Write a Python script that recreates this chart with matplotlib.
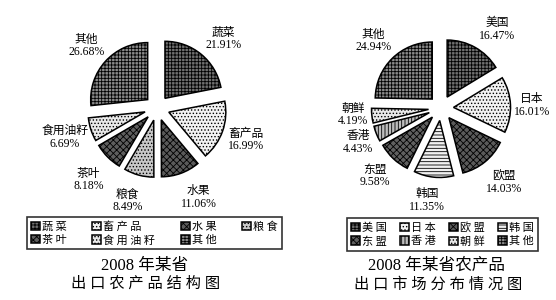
import matplotlib
matplotlib.use('Agg')
import matplotlib.pyplot as plt

plt.rcParams['font.family'] = ['Liberation Serif', 'Noto Sans CJK SC']
plt.rcParams['hatch.linewidth'] = 0.6

# left chart: product structure
prod_names = ['蔬菜', '畜产品', '水果', '粮食', '茶叶', '食用油籽', '其他']
prod_share = [21.91, 16.99, 11.06, 8.49, 8.18, 6.69, 26.68]
prod_legend = ['蔬 菜', '畜 产 品', '水 果', '粮 食', '茶 叶', '食 用 油 籽', '其 他']

# right chart: market distribution
mkt_names = ['美国', '日本', '欧盟', '韩国', '东盟', '香港', '朝鲜', '其他']
mkt_share = [16.47, 16.01, 14.03, 11.35, 9.58, 4.43, 4.19, 24.94]
mkt_legend = ['美 国', '日 本', '欧 盟', '韩 国', '东 盟', '香 港', '朝 鲜', '其 他']

# fill textures (facecolor, hatch)
prod_style = [('#707070', '+++++'), ('#f2f2f2', '.....'), ('#5a5a5a', 'xxxxx'),
              ('#c8c8c8', '.....'), ('#5e5e5e', 'xxxxx'), ('#e8e8e8', '.....'),
              ('#8a8a8a', '+++++')]
mkt_style = [('#707070', '+++++'), ('#f2f2f2', '.....'), ('#5a5a5a', 'xxxxx'),
             ('#f0f0f0', '-----'), ('#606060', 'xxxxx'), ('#bdbdbd', '|||||'),
             ('#e8e8e8', '.....'), ('#8a8a8a', '+++++')]

W, H = 556, 300
R = 57.0
fig = plt.figure(figsize=(W / 100, H / 100), dpi=100)
fig.patch.set_facecolor('white')


def pie_axes(x0, x1, y0, y1):
    # axes box given in pixels
    ax = fig.add_axes([x0 / W, 1 - y1 / H, (x1 - x0) / W, (y1 - y0) / H])
    ax.axis('off')
    return ax


def draw_pie(ax, names, share, style, nudge):
    wedges, texts = ax.pie(share, labels=[''] * len(share), startangle=90,
                           counterclock=False, explode=[0.22] * len(share),
                           labeldistance=1.38, radius=1.0,
                           wedgeprops=dict(edgecolor='black', linewidth=1.1))
    for w, (fc, h) in zip(wedges, style):
        w.set_facecolor(fc)
        w.set_hatch(h)
    for t, n, v, (dx, dy) in zip(texts, names, share, nudge):
        x, y = t.get_position()
        t.set_position((x + dx, y + dy))
        t.set_text('%s\n%.2f%%' % (n, v))
        t.set_ha('center')
        t.set_va('center')
        t.set_fontsize(8.5)
        t.set_linespacing(1.05)
    return wedges


def fit_scale(ax, cx, cy, x0, x1, y0, y1):
    # radius 1 == R pixels, pie centre at (cx, cy) pixels
    ax.set_aspect('auto')
    ax.set_xlim((x0 - cx) / R, (x1 - cx) / R)
    ax.set_ylim((cy - y1) / R, (cy - y0) / R)


ax1 = pie_axes(20, 290, 5, 215)
w1 = draw_pie(ax1, prod_names, prod_share, prod_style,
              [(0.15, -0.02), (0.05, -0.03), (0.18, -0.07), (-0.1, -0.08),
               (-0.07, -0.13), (-0.1, -0.02), (-0.05, 0.02)])
fit_scale(ax1, 157, 108, 20, 290, 5, 215)

ax2 = pie_axes(300, 556, 5, 215)
w2 = draw_pie(ax2, mkt_names, mkt_share, mkt_style,
              [(0.2, -0.02), (0.0, -0.03), (0.1, -0.07), (-0.08, -0.03),
               (-0.07, -0.03), (0.03, -0.01), (0.05, 0.05), (-0.07, 0.03)])
fit_scale(ax2, 441, 108, 300, 556, 5, 215)

order1 = [0, 4, 1, 5, 2, 6, 3]
order2 = [0, 4, 1, 5, 2, 6, 3, 7]

leg_kw = dict(ncol=4, mode='expand', loc='upper left', frameon=True,
              fancybox=False, handlelength=0.8, handleheight=0.8,
              handletextpad=0.2, borderpad=0.35, labelspacing=0.3,
              borderaxespad=0, prop={'family': 'Noto Sans CJK SC', 'size': 8})

l1 = fig.legend([w1[i] for i in order1], [prod_legend[i] for i in order1],
                bbox_to_anchor=(27 / W, 1 - 251 / H, 255 / W, 34 / H), **leg_kw)
l2 = fig.legend([w2[i] for i in order2], [mkt_legend[i] for i in order2],
                bbox_to_anchor=(347 / W, 1 - 252 / H, 191 / W, 34 / H), **leg_kw)
for lg in (l1, l2):
    lg.get_frame().set_edgecolor('black')
    lg.get_frame().set_linewidth(1.2)

fig.text(145 / W, 1 - 266 / H, '2008 年某省', ha='center', va='center', fontsize=12)
fig.text(146 / W, 1 - 284 / H, '出 口 农 产 品 结 构 图', ha='center', va='center', fontsize=11)
fig.text(437 / W, 1 - 266 / H, '2008 年某省农产品', ha='center', va='center', fontsize=12)
fig.text(438 / W, 1 - 284 / H, '出 口 市 场 分 布 情 况 图', ha='center', va='center', fontsize=11)

fig.savefig('out.png', dpi=100)
